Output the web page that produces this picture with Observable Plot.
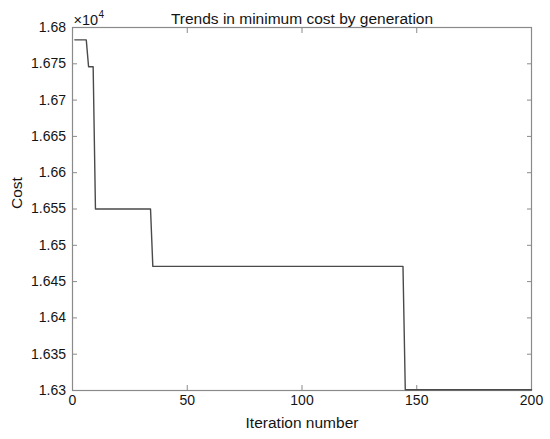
<!DOCTYPE html>
<html>
<head>
<meta charset="utf-8">
<script src="https://cdn.jsdelivr.net/npm/d3@7"></script>
<script src="https://cdn.jsdelivr.net/npm/@observablehq/plot@0.6"></script>
<style>
  html, body { margin: 0; padding: 0; background: #fff; }
  svg { font-family: "Liberation Sans", Arial, sans-serif; }
</style>
</head>
<body>
<div id="chart"></div>
<script>
// Breakpoints of the minimum-cost curve (iteration, cost)
const iterations = [1, 6, 7, 9, 10, 34, 35, 144, 145, 200];
const costs = [16783, 16783, 16746, 16746, 16550, 16550, 16471, 16471, 16301, 16301];
const xTicks = [0, 50, 100, 150, 200];
const yTicks = [16300, 16350, 16400, 16450, 16500, 16550, 16600, 16650, 16700, 16750, 16800];
const titleText = "Trends in minimum cost by generation";
const xLabel = "Iteration number";
const yLabel = "Cost";

const data = iterations.map((it, i) => ({ it, cost: costs[i] }));
const axisColor = "#8a8a8a";
const textColor = "#141414";
const fmt = d => String(+(d / 1e4).toFixed(4));

const chart = Plot.plot({
  width: 550,
  height: 439,
  marginLeft: 72,
  marginRight: 19,
  marginTop: 27,
  marginBottom: 49,
  style: { fontFamily: "Liberation Sans, Arial, sans-serif", fontSize: "14px", color: textColor, background: "#fff" },
  x: { domain: [0, 200] },
  y: { domain: [16300, 16800] },
  marks: [
    Plot.frame({ stroke: axisColor, strokeWidth: 1.2 }),
    Plot.axisX(xTicks, { anchor: "bottom", tickSize: -5, tickPadding: 10, stroke: axisColor, fill: textColor, fontSize: 14, label: null }),
    Plot.axisX(xTicks, { anchor: "top", tickSize: -5, tickFormat: () => "", stroke: axisColor, label: null }),
    Plot.axisY(yTicks, { anchor: "left", tickSize: -5, tickPadding: 11.5, tickFormat: fmt, stroke: axisColor, fill: textColor, fontSize: 14, label: null }),
    Plot.axisY(yTicks, { anchor: "right", tickSize: -5, tickFormat: () => "", stroke: axisColor, label: null }),
    Plot.line(data, { x: "it", y: "cost", stroke: "#4a4a4a", strokeWidth: 1.4 }),
    Plot.text([titleText], { frameAnchor: "top", lineAnchor: "bottom", dy: -4, fontSize: 15.5, fill: textColor }),
    Plot.text([xLabel], { frameAnchor: "bottom", lineAnchor: "top", dy: 26, fontSize: 15.5, fill: textColor }),
    Plot.text([yLabel], { frameAnchor: "left", rotate: -90, dx: -55, fontSize: 15.5, fill: textColor }),
    Plot.text(["×10"], { frameAnchor: "top-left", textAnchor: "start", lineAnchor: "bottom", dx: 1, dy: -3, fontSize: 14.5, fill: textColor }),
    Plot.text(["4"], { frameAnchor: "top-left", textAnchor: "start", lineAnchor: "bottom", dx: 26, dy: -10, fontSize: 10, fill: textColor })
  ]
});
document.getElementById("chart").appendChild(chart);
</script>
</body>
</html>
